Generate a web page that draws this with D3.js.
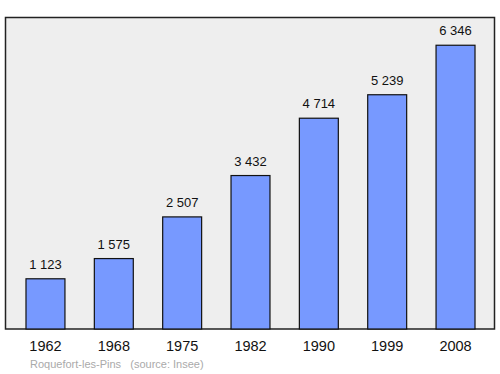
<!DOCTYPE html>
<html>
<head>
<meta charset="utf-8">
<script src="https://cdn.jsdelivr.net/npm/d3@7"></script>
<style>
  body { margin: 0; background: #fff; }
  text { font-family: "Liberation Sans", Arial, sans-serif; }
</style>
</head>
<body>
<div id="main"></div>
<script>
var years = ["1962", "1968", "1975", "1982", "1990", "1999", "2008"];
var population = [1123, 1575, 2507, 3432, 4714, 5239, 6346];
var labels = ["1 123", "1 575", "2 507", "3 432", "4 714", "5 239", "6 346"];

var svg = d3.select("#main").append("svg")
  .attr("width", 500)
  .attr("height", 374);//create canvas

svg.append("rect")
  .attr("x", 5.5).attr("y", 17.5)
  .attr("width", 489).attr("height", 311.5)
  .attr("fill", "#eeeeee")
  .attr("stroke", "#222")
  .attr("stroke-width", 1.5);//plot background

var x = d3.scaleBand()
  .domain(years)
  .range([11.3, 489.7])
  .paddingInner(0.43)
  .paddingOuter(0.215);
var y = d3.scaleLinear()
  .domain([0, 7000])
  .range([329, 16]);

var data = years.map(function(d, i) { return {year: d, value: population[i], label: labels[i]}; });

svg.selectAll(".bar").data(data).enter().append("rect")
  .attr("class", "bar")
  .attr("x", function(d) { return x(d.year); })
  .attr("y", function(d) { return y(d.value); })
  .attr("width", x.bandwidth())
  .attr("height", function(d) { return y(0) - y(d.value); })
  .attr("fill", "#7799ff")
  .attr("stroke", "#111")
  .attr("stroke-width", 1.2);//draw bars

svg.selectAll(".val").data(data).enter().append("text")
  .attr("class", "val")
  .attr("x", function(d) { return x(d.year) + x.bandwidth() / 2; })
  .attr("y", function(d) { return y(d.value) - 10; })
  .attr("text-anchor", "middle")
  .attr("font-size", 13)
  .attr("fill", "#111")
  .text(function(d) { return d.label; });//value labels

var xAxis = d3.axisBottom(x).tickSize(0).tickPadding(12);
var gx = svg.append("g")
  .attr("transform", "translate(0,329)")
  .call(xAxis);
gx.select(".domain").remove();
gx.selectAll("text")
  .attr("font-size", 14.5)
  .attr("font-family", "Liberation Sans, Arial, sans-serif")
  .attr("fill", "#111");//year labels

svg.append("text")
  .attr("x", 30)
  .attr("y", 368)
  .attr("font-size", 11)
  .attr("fill", "#aaaaaa")
  .attr("xml:space", "preserve")
  .style("white-space", "pre")
  .text("Roquefort-les-Pins   (source: Insee)");//source
</script>
</body>
</html>
